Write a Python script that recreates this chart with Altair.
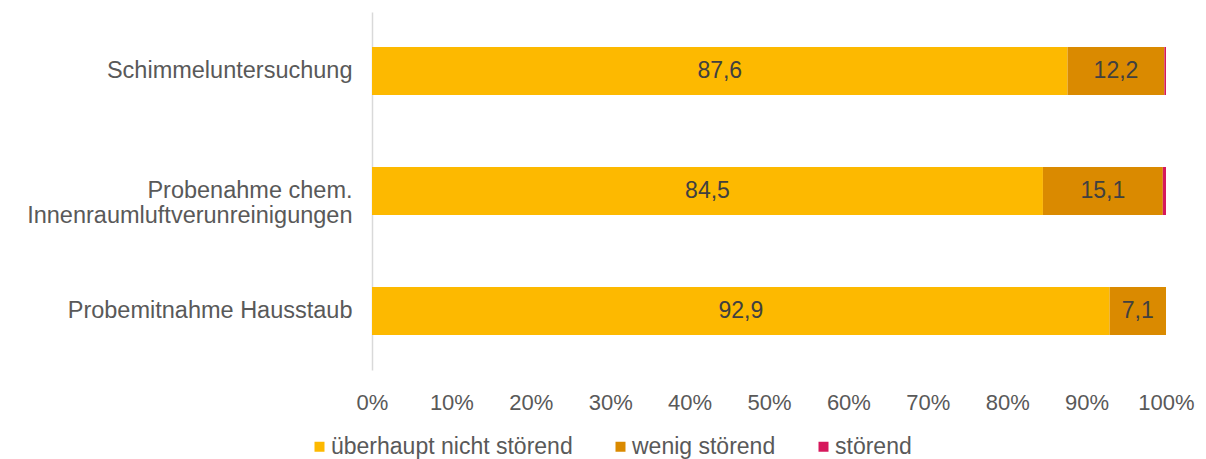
import altair as alt
import pandas as pd

categories = ["Schimmeluntersuchung",
              "Probenahme chem. Innenraumluftverunreinigungen",
              "Probemitnahme Hausstaub"]
series = ["überhaupt nicht störend", "wenig störend", "störend"]
v_nicht = [87.6, 84.5, 92.9]
v_wenig = [12.2, 15.1, 7.1]
v_stoer = [0.2, 0.4, 0.0]
colors = ["#FDB900", "#DA8A00", "#D6185C"]
ticks = [0, 10, 20, 30, 40, 50, 60, 70, 80, 90, 100]

rows = []
for i, c in enumerate(categories):
    for j, (s, vals) in enumerate(zip(series, [v_nicht, v_wenig, v_stoer])):
        v = vals[i]
        rows.append({"cat": c, "serie": s, "order": j, "value": v,
                     "label": (f"{v:.1f}".replace(".", ",") if j < 2 else "")})
df = pd.DataFrame(rows)

font = "Liberation Sans"

base = alt.Chart(df).transform_stack(
    stack="value", groupby=["cat"], as_=["v0", "v1"],
    sort=[alt.SortField("order", order="ascending")]
).transform_calculate(mid="(datum.v0 + datum.v1) / 2")

y_enc = alt.Y("cat:N", sort=categories, title=None,
              scale=alt.Scale(paddingInner=0.6, paddingOuter=0.292),
              axis=alt.Axis(ticks=False, domain=True, domainColor="#d9d9d9",
                            domainWidth=1.5, labelFont=font, labelFontSize=23.5,
                            labelColor="#595959", labelPadding=20,
                            labelLineHeight=25, labelLimit=400,
                            labelExpr="indexof(datum.label, 'Innenraum') > 0 ? ['Probenahme chem.', 'Innenraumluftverunreinigungen'] : datum.label"))

bars = base.mark_bar().encode(
    y=y_enc,
    x=alt.X("v0:Q", title=None,
            scale=alt.Scale(domain=[0, 100], nice=False, zero=True),
            axis=alt.Axis(values=ticks, ticks=False, domain=False, grid=False,
                          labelFlush=False, labelOverlap=False,
                          labelFont=font, labelFontSize=22, labelColor="#595959",
                          labelPadding=22, labelExpr="datum.value + '%'")),
    x2="v1:Q",
    color=alt.Color("serie:N", sort=series,
                    scale=alt.Scale(domain=series, range=colors),
                    legend=alt.Legend(title=None, orient="none", direction="horizontal",
                                      legendX=-64, legendY=423, padding=0,
                                      symbolType="square", symbolSize=100,
                                      symbolStrokeWidth=0,
                                      labelFont=font, labelFontSize=23,
                                      labelColor="#595959", labelOffset=0,
                                      columnPadding=36, labelLimit=400)),
    order=alt.Order("order:Q"),
)

texts = base.mark_text(font=font, fontSize=23, color="#404040").encode(
    y=alt.Y("cat:N", sort=categories),
    x=alt.X("mid:Q"),
    text="label:N",
)

chart = alt.layer(bars, texts).properties(
    width=794, height=358,
    autosize=alt.AutoSizeParams(type="none"),
    padding={"left": 372, "top": 12, "right": 40, "bottom": 89},
).configure_view(stroke=None).configure_axis(grid=False)

chart.save("out.html", embed_options={"renderer": "svg", "actions": False})
